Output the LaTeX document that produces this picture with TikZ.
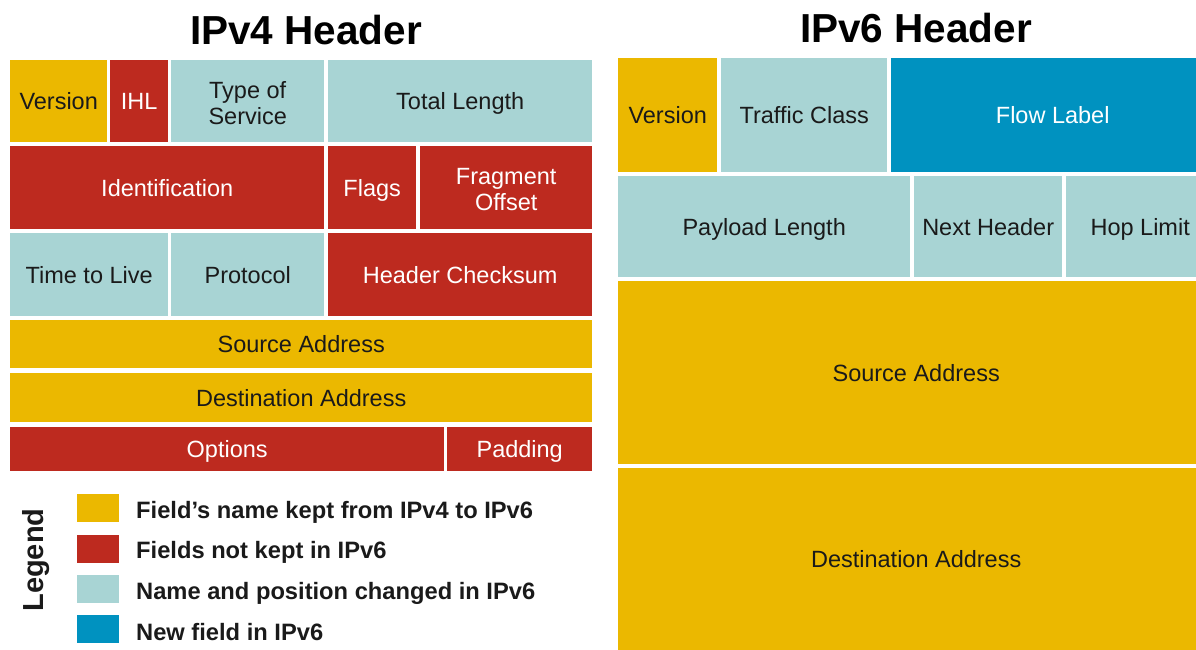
\documentclass[tikz,border=0pt]{standalone}
\usepackage{fontspec}
\setmainfont{Liberation Sans}
\definecolor{yel}{HTML}{EBB800}
\definecolor{red4}{HTML}{BD2A1F}
\definecolor{teal4}{HTML}{A8D4D4}
\definecolor{blu6}{HTML}{0092C0}
\definecolor{ink}{HTML}{1A1A1A}
\newcommand\vstr{\rule[-5.5pt]{0pt}{28pt}}
\newcommand\tallstr{\rule{0pt}{26pt}}
\begin{document}
\begin{tikzpicture}[x=1pt,y=-1pt,
  fld/.style={anchor=north west,inner sep=0pt,align=center,font=\fontsize{23.5}{26}\selectfont,execute at begin node=\vstr},
  ylw/.style={fld,fill=yel,text=ink},
  rd/.style={fld,fill=red4,text=white},
  tl/.style={fld,fill=teal4,text=ink},
  bl/.style={fld,fill=blu6,text=white},
  ttl/.style={font=\bfseries\fontsize{40.5}{44}\selectfont,text=black},
  sw/.style={anchor=north west,inner sep=0pt,minimum width=42pt,minimum height=28pt},
  lt/.style={anchor=base west,inner sep=0pt,font=\bfseries\fontsize{23.7}{26}\selectfont,text=ink}]
\clip (0,0) rectangle (1196,650);
% titles
\node[ttl] (t4) at (306,30) {IPv4 Header};
\node[ttl] (t6) at (916,28) {IPv6 Header};
% IPv4
\node[ylw,minimum width=97pt,minimum height=82pt] (v4ver) at (10,60) {Version};
\node[rd,minimum width=58pt,minimum height=82pt] (v4ihl) at (110,60) {IHL};
\node[tl,minimum width=153pt,minimum height=82pt] (v4tos) at (171,60) {\tallstr Type of\\Service};
\node[tl,minimum width=264pt,minimum height=82pt] (v4len) at (328,60) {Total Length};
\node[rd,minimum width=314pt,minimum height=83pt] (v4id) at (10,146) {Identification};
\node[rd,minimum width=88pt,minimum height=83pt] (v4flg) at (328,146) {Flags};
\node[rd,minimum width=172pt,minimum height=83pt] (v4frag) at (420,146) {\tallstr Fragment\\Offset};
\node[tl,minimum width=158pt,minimum height=83pt] (v4ttl) at (10,233) {Time to Live};
\node[tl,minimum width=153pt,minimum height=83pt] (v4pro) at (171,233) {Protocol};
\node[rd,minimum width=264pt,minimum height=83pt] (v4hcs) at (328,233) {Header Checksum};
\node[ylw,minimum width=582pt,minimum height=48pt] (v4src) at (10,320) {Source Address};
\node[ylw,minimum width=582pt,minimum height=49pt] (v4dst) at (10,373) {Destination Address};
\node[rd,minimum width=434pt,minimum height=44pt] (v4opt) at (10,427) {Options};
\node[rd,minimum width=145pt,minimum height=44pt] (v4pad) at (447,427) {Padding};
% IPv6 (right edge runs past the picture's edge)
\node[ylw,minimum width=99pt,minimum height=114pt] (v6ver) at (618,58) {Version};
\node[tl,minimum width=166pt,minimum height=114pt] (v6tc) at (721,58) {Traffic Class};
\node[bl,minimum width=323pt,minimum height=114pt] (v6fl) at (891,58) {Flow Label};
\node[tl,minimum width=292pt,minimum height=101pt] (v6pl) at (618,176) {Payload Length};
\node[tl,minimum width=148pt,minimum height=101pt] (v6nh) at (914,176) {Next Header};
\node[tl,minimum width=148pt,minimum height=101pt] (v6hl) at (1066,176) {Hop Limit};
\node[ylw,minimum width=596pt,minimum height=183pt] (v6src) at (618,281) {Source Address};
\node[ylw,minimum width=596pt,minimum height=182pt] (v6dst) at (618,468) {Destination Address};
% legend
\node[rotate=90,font=\bfseries\fontsize{29}{32}\selectfont,text=ink] (leg) at (36,560) {Legend};
\node[sw,fill=yel] (s1) at (77,494) {};
\node[sw,fill=red4] (s2) at (77,535) {};
\node[sw,fill=teal4] (s3) at (77,575) {};
\node[sw,fill=blu6] (s4) at (77,615) {};
\node[lt] (l1) at (136,518) {Field’s name kept from IPv4 to IPv6};
\node[lt] (l2) at (136,558) {Fields not kept in IPv6};
\node[lt] (l3) at (136,599) {Name and position changed in IPv6};
\node[lt] (l4) at (136,640) {New field in IPv6};
\end{tikzpicture}
\end{document}
